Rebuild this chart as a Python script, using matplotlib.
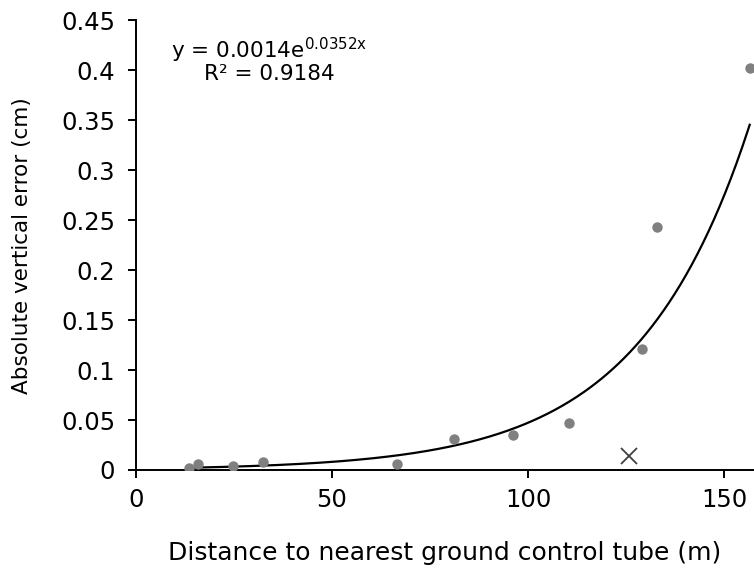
import numpy as np
import matplotlib
matplotlib.use("Agg")
import matplotlib.pyplot as plt
from matplotlib.ticker import FuncFormatter

plt.rcParams['font.family'] = ['DejaVu Sans']
plt.rcParams['mathtext.fontset'] = 'dejavusans'

# measured points (distance m, abs vertical error cm)
dist = [13.6, 16.0, 24.9, 32.5, 66.5, 81.1, 96.1, 110.4, 129.0, 133.0, 156.5]
err = [0.002, 0.006, 0.004, 0.008, 0.006, 0.031, 0.035, 0.047, 0.121, 0.243, 0.402]

# excluded point (cross)
out_dist = [125.8]
out_err = [0.014]

# exponential trendline coefficients
a_coef = 0.0014
b_coef = 0.0352

fig = plt.figure(figsize=(7.54, 5.69), dpi=100)
ax = fig.add_axes([0.18, 0.174, 0.82, 0.79])

xs = np.linspace(min(dist), max(dist), 300)
ax.plot(xs, a_coef * np.exp(b_coef * xs), color='black', lw=1.6, zorder=2)
ax.plot(dist, err, 'o', color='#808080', ms=7.5, mec='none', zorder=3)
ax.plot(out_dist, out_err, 'x', color='#404040', ms=11, mew=1.3, zorder=3)

ax.set_xlim(0, 157.6)
ax.set_ylim(0, 0.45)
ax.set_xticks([0, 50, 100, 150])
ax.set_yticks(np.arange(0, 0.451, 0.05))
ax.yaxis.set_major_formatter(FuncFormatter(lambda v, p: f"{round(v, 2):g}"))

for s in ['top', 'right']:
    ax.spines[s].set_visible(False)
for s in ['left', 'bottom']:
    ax.spines[s].set_linewidth(1.4)
ax.tick_params(direction='out', length=5.8, width=1.4, labelsize=17.5)
ax.tick_params(axis='x', pad=7)
ax.tick_params(axis='y', pad=9)

ax.set_xlabel('Distance to nearest ground control tube (m)', fontsize=18, labelpad=21)
ax.set_ylabel('Absolute vertical error (cm)', fontsize=15.5, labelpad=21)

eq = 'y = 0.0014e$^{\\mathregular{0.0352x}}$\nR² = 0.9184'
ax.text(0.216, 0.912, eq, transform=ax.transAxes, fontsize=15.5,
        ha='center', va='center', multialignment='center', linespacing=0.95)

fig.savefig('out.png', dpi=100)
